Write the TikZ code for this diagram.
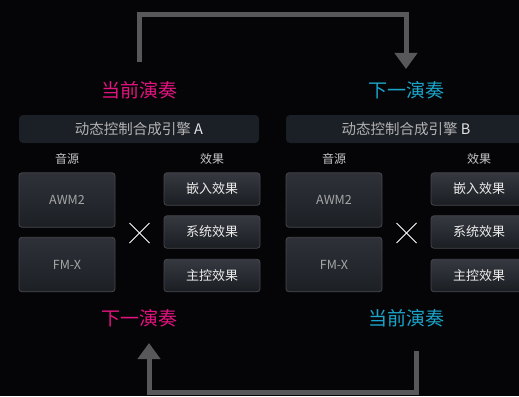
\documentclass[tikz,border=0pt]{standalone}
\usepackage{fontspec}
\setmainfont{Noto Sans CJK SC}
\usetikzlibrary{arrows.meta}
\definecolor{bg}{HTML}{050507}
\definecolor{conn}{HTML}{58585A}
\definecolor{mag}{HTML}{E2137F}
\definecolor{cya}{HTML}{1BA3C9}
\definecolor{hdr}{HTML}{1B1F26}
\definecolor{boxtop}{HTML}{2E3138}
\definecolor{boxbot}{HTML}{1C1F24}
\definecolor{boxline}{HTML}{44474D}
\definecolor{effTop}{HTML}{363940}
\definecolor{effBot}{HTML}{1A1D22}
\tikzset{
  lbl/.style={font=\fontsize{19}{20}\selectfont, inner sep=0pt},
  hdrbar/.style={fill=hdr, rounded corners=4pt, minimum width=240pt, minimum height=28pt, inner sep=0pt, text=black!30!white, font=\fontsize{14.5}{16}\selectfont},
  captxt/.style={font=\fontsize{12}{13}\selectfont, text=black!22!white, inner sep=0pt},
  srcbox/.style={draw=boxline, line width=0.8pt, top color=boxtop, bottom color=boxbot, rounded corners=3pt, minimum width=96pt, minimum height=54.5pt, inner sep=0pt, text=black!35!white, font=\fontsize{12.5}{14}\selectfont},
  effbox/.style={draw=boxline, line width=0.8pt, top color=effTop, bottom color=effBot, rounded corners=3pt, minimum width=96pt, minimum height=32.5pt, inner sep=0pt, text=black!8!white, font=\fontsize{13}{14}\selectfont},
  conline/.style={draw=conn, line width=5pt},
  conarrow/.style={conline, -{Triangle[width=22pt,length=16pt]}},
  crosspen/.style={draw=white, line width=0.9pt},
}
\begin{document}
\begin{tikzpicture}[x=1pt,y=-1pt]
\fill[bg] (0,0) rectangle (519,396);
\useasboundingbox (0,0) rectangle (519,396);
\begin{scope}
\clip (0,0) rectangle (519,396);
% Panel A
\node[lbl, text=mag] (curA) at (139,90) {当前演奏};
\node[hdrbar] (hdrA) at (139,129) {动态控制合成引擎 {\color{black!10!white}A}};
\node[captxt] (srcA) at (67,159) {音源};
\node[captxt] (fxA) at (212,159) {效果};
\node[srcbox] (awmA) at (67,200) {AWM2};
\node[srcbox] (fmA) at (67,264.5) {FM-X};
\node[effbox] (insA) at (212,189) {嵌入效果};
\node[effbox] (sysA) at (212,232) {系统效果};
\node[effbox] (masA) at (212,275.5) {主控效果};
\coordinate (xA) at (139.5,233);
\draw[crosspen] ([shift={(-10,-10)}]xA) -- ([shift={(10,10)}]xA);
\draw[crosspen] ([shift={(-10,10)}]xA) -- ([shift={(10,-10)}]xA);
\node[lbl, text=mag] (nextA) at (139,318) {下一演奏};
% Panel B
\node[lbl, text=cya] (nextB) at (406,90) {下一演奏};
\node[hdrbar] (hdrB) at (406,129) {动态控制合成引擎 {\color{black!10!white}B}};
\node[captxt] (srcB) at (334,159) {音源};
\node[captxt] (fxB) at (479,159) {效果};
\node[srcbox] (awmB) at (334,200) {AWM2};
\node[srcbox] (fmB) at (334,264.5) {FM-X};
\node[effbox] (insB) at (479,189) {嵌入效果};
\node[effbox] (sysB) at (479,232) {系统效果};
\node[effbox] (masB) at (479,275.5) {主控效果};
\coordinate (xB) at (406.5,233);
\draw[crosspen] ([shift={(-10,-10)}]xB) -- ([shift={(10,10)}]xB);
\draw[crosspen] ([shift={(-10,10)}]xB) -- ([shift={(10,-10)}]xB);
\node[lbl, text=cya] (curB) at (406,318) {当前演奏};
\end{scope}
% Connectors
\coordinate (topStart) at (139.5,62);
\coordinate (topY) at (0,14.5);
\coordinate (topEnd) at (406,69);
\coordinate (botStart) at (416,351);
\coordinate (botY) at (0,392.5);
\coordinate (botEnd) at (149,343);
\draw[conarrow] (topStart) -- (topStart |- topY) -| (topEnd);
\draw[conarrow] (botStart) -- (botStart |- botY) -| (botEnd);
\end{tikzpicture}
\end{document}
